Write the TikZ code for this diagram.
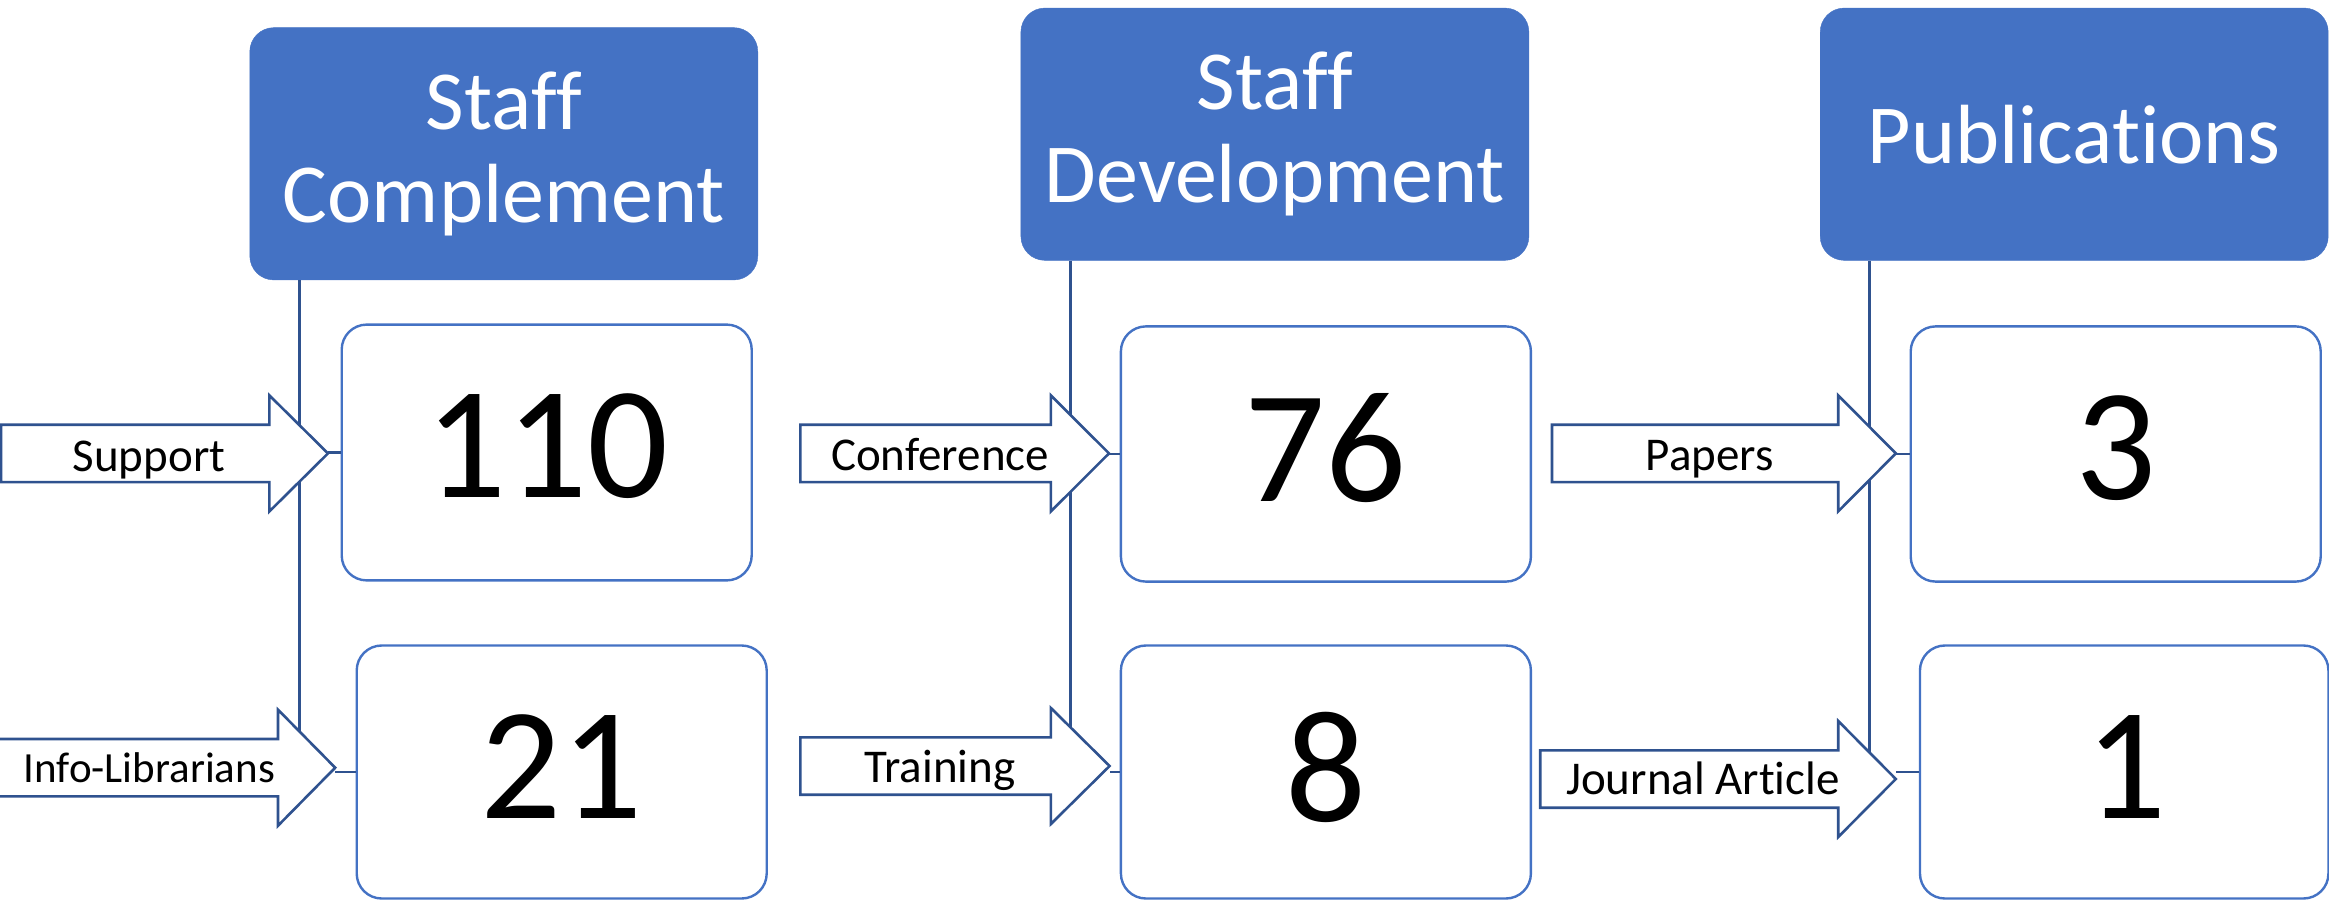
\documentclass[tikz,border=0pt]{standalone}
\usepackage{fontspec}
\setmainfont{Carlito}[Ligatures={NoCommon,NoContextual}]
\definecolor{hdrblue}{HTML}{4472C4}
\definecolor{boxblue}{HTML}{4472C4}
\definecolor{darkblue}{HTML}{2F528F}
\newcommand{\blockarr}[4]{%
  \draw[blockarrow] (#1,#4-28.7) -- (#2,#4-28.7) -- (#2,#4-58) -- (#3,#4)
    -- (#2,#4+58) -- (#2,#4+28.7) -- (#1,#4+28.7) -- cycle;}
\begin{document}
\begin{tikzpicture}[x=1pt,y=-1pt,
  header/.style={draw=hdrblue, fill=hdrblue, rounded corners=24pt, text=white,
    align=center, font=\fontsize{84}{93}\selectfont, inner sep=0pt,
    minimum width=508pt, minimum height=252.3pt},
  valbox/.style={draw=boxblue, line width=2.4pt, fill=white, rounded corners=25pt,
    inner sep=0pt, minimum width=410pt},
  numtext/.style={font=\fontsize{160}{160}\selectfont, inner sep=0pt},
  arrowlabel/.style={font=\fontsize{47}{47}\selectfont, inner sep=0pt, anchor=base},
  blockarrow/.style={draw=darkblue, line width=2.6pt, fill=white, line join=miter},
  spine/.style={draw=darkblue, line width=2.6pt},
]
\useasboundingbox (0,0) rectangle (2329,901);

% value boxes
\node[valbox, minimum height=255.8pt] (b110) at (546.7,452.5) {};
\node[valbox, minimum height=253pt] (b21) at (561.7,772) {};
\node[valbox, minimum height=255.2pt] (b76) at (1325.9,454) {};
\node[valbox, minimum height=253pt] (b8) at (1325.9,772) {};
\node[valbox, minimum height=255.2pt] (b3) at (2115.7,454) {};
\node[valbox, minimum height=253pt, minimum width=408.5pt] (b1) at (2124.2,772) {};

% headers
\node[header] (h1) at (503.8,153.8) {Staff\\Complement};
\node[header] (h2) at (1274.9,134.2) {Staff\\Development};
\node[header] (h3) at (2074.2,134.2) {Publications};

% spines
\coordinate (s1end) at (299.5,767.7);
\coordinate (s2end) at (1070.3,766);
\coordinate (s3end) at (1869.3,779);
\draw[spine] (h1.south -| s1end) -- (s1end);
\draw[spine] (h2.south -| s2end) -- (s2end);
\draw[spine] (h3.south -| s3end) -- (s3end);

% arrow tips
\coordinate (t1) at (328,453.4);
\coordinate (t2) at (335.2,767.7);
\coordinate (t3) at (1109,453.4);
\coordinate (t4) at (1109.6,766);
\coordinate (t5) at (1895.8,453.4);
\coordinate (t6) at (1895.8,779);

% connectors
\draw[spine] (b110.west) -- (b110.west -| t1);
\draw[spine] (b21.west) -- (b21.west -| t2);
\draw[spine] (b76.west) -- (b76.west -| t3);
\draw[spine] (b8.west) -- (b8.west -| t4);
\draw[spine] (b3.west) -- (b3.west -| t5);
\draw[spine] (b1.west) -- (b1.west -| t6);

% block arrows
\blockarr{1}{269.4}{328}{453.4}
\blockarr{-6}{278}{335.2}{767.7}
\blockarr{800.4}{1050.9}{1109}{453.4}
\blockarr{800.4}{1050.9}{1109.6}{766}
\blockarr{1552}{1838.2}{1895.8}{453.4}
\blockarr{1540.2}{1838.2}{1895.8}{779}

% arrow labels
\node[arrowlabel] (l1) at (149,471.3) {Support};
\node[arrowlabel, font=\fontsize{43}{43}\selectfont] (l2) at (149.3,782.6) {Info-Librarians};
\node[arrowlabel] (l3) at (940,470) {Conference};
\node[arrowlabel] (l4) at (940,782.6) {Training};
\node[arrowlabel] (l5) at (1709.7,470) {Papers};
\node[arrowlabel] (l6) at (1703,794.8) {Journal Article};

% numbers
\node[numtext] (n110) at ([yshift=6pt]b110.center) {110};
\node[numtext] (n21) at ([yshift=5pt]b21.center) {21};
\node[numtext] (n76) at ([yshift=6pt]b76.center) {76};
\node[numtext] (n8) at ([yshift=5pt]b8.center) {8};
\node[numtext] (n3) at ([yshift=6pt]b3.center) {3};
\node[numtext] (n1) at ([yshift=5pt,xshift=2pt]b1.center) {1};
\end{tikzpicture}
\end{document}
